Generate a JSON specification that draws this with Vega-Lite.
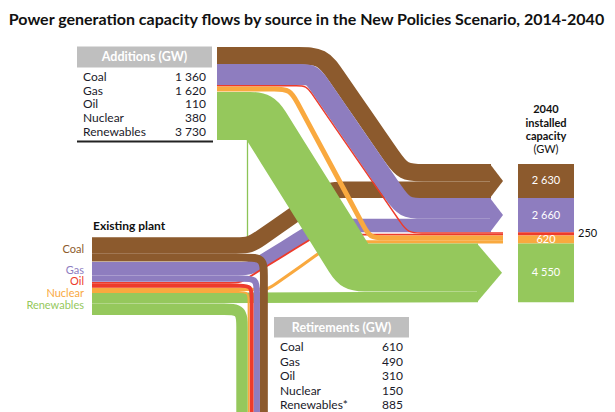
{
"$schema":"https://vega.github.io/schema/vega-lite/v6.json",
"width":615,"height":412,"padding":0,"autosize":"none",
"background":"white",
"config":{"view":{"stroke":null}},
"datasets":{
"flows":[
{"path":"add_coal","fuel":"Coal","grp":"add","gw":1360,"i":0,"x":217,"y":55.75},
{"path":"add_coal","fuel":"Coal","grp":"add","gw":1360,"i":1,"x":274.4,"y":55.75},
{"path":"add_coal","fuel":"Coal","grp":"add","gw":1360,"i":2,"x":298.4,"y":55.75},
{"path":"add_coal","fuel":"Coal","grp":"add","gw":1360,"i":3,"x":322.4,"y":55.75},
{"path":"add_coal","fuel":"Coal","grp":"add","gw":1360,"i":4,"x":336,"y":75.5},
{"path":"add_coal","fuel":"Coal","grp":"add","gw":1360,"i":5,"x":349.7,"y":95.3},
{"path":"add_coal","fuel":"Coal","grp":"add","gw":1360,"i":6,"x":380.5,"y":139.9},
{"path":"add_coal","fuel":"Coal","grp":"add","gw":1360,"i":7,"x":391.8,"y":156.3},
{"path":"add_coal","fuel":"Coal","grp":"add","gw":1360,"i":8,"x":403.2,"y":172.8},
{"path":"add_coal","fuel":"Coal","grp":"add","gw":1360,"i":9,"x":423.2,"y":172.8},
{"path":"add_coal","fuel":"Coal","grp":"add","gw":1360,"i":10,"x":443.2,"y":172.8},
{"path":"add_coal","fuel":"Coal","grp":"add","gw":1360,"i":11,"x":491,"y":172.8},
{"path":"add_gas","fuel":"Gas","grp":"add","gw":1620,"i":0,"x":217,"y":74.5},
{"path":"add_gas","fuel":"Gas","grp":"add","gw":1620,"i":1,"x":288.1,"y":74.5},
{"path":"add_gas","fuel":"Gas","grp":"add","gw":1620,"i":2,"x":300.1,"y":74.5},
{"path":"add_gas","fuel":"Gas","grp":"add","gw":1620,"i":3,"x":312.1,"y":74.5},
{"path":"add_gas","fuel":"Gas","grp":"add","gw":1620,"i":4,"x":318.9,"y":84.4},
{"path":"add_gas","fuel":"Gas","grp":"add","gw":1620,"i":5,"x":325.7,"y":94.3},
{"path":"add_gas","fuel":"Gas","grp":"add","gw":1620,"i":6,"x":381.7,"y":175.5},
{"path":"add_gas","fuel":"Gas","grp":"add","gw":1620,"i":7,"x":393,"y":191.9},
{"path":"add_gas","fuel":"Gas","grp":"add","gw":1620,"i":8,"x":404.4,"y":208.4},
{"path":"add_gas","fuel":"Gas","grp":"add","gw":1620,"i":9,"x":424.4,"y":208.4},
{"path":"add_gas","fuel":"Gas","grp":"add","gw":1620,"i":10,"x":444.4,"y":208.4},
{"path":"add_gas","fuel":"Gas","grp":"add","gw":1620,"i":11,"x":491,"y":208.4},
{"path":"add_oil","fuel":"Oil","grp":"add","gw":110,"i":0,"x":217,"y":85.7},
{"path":"add_oil","fuel":"Oil","grp":"add","gw":110,"i":1,"x":286.3,"y":85.7},
{"path":"add_oil","fuel":"Oil","grp":"add","gw":110,"i":2,"x":296.3,"y":85.7},
{"path":"add_oil","fuel":"Oil","grp":"add","gw":110,"i":3,"x":306.3,"y":85.7},
{"path":"add_oil","fuel":"Oil","grp":"add","gw":110,"i":4,"x":312,"y":93.9},
{"path":"add_oil","fuel":"Oil","grp":"add","gw":110,"i":5,"x":317.7,"y":102.2},
{"path":"add_oil","fuel":"Oil","grp":"add","gw":110,"i":6,"x":392,"y":210},
{"path":"add_oil","fuel":"Oil","grp":"add","gw":110,"i":7,"x":400,"y":221.5},
{"path":"add_oil","fuel":"Oil","grp":"add","gw":110,"i":8,"x":407.9,"y":233},
{"path":"add_oil","fuel":"Oil","grp":"add","gw":110,"i":9,"x":421.9,"y":233},
{"path":"add_oil","fuel":"Oil","grp":"add","gw":110,"i":10,"x":435.9,"y":233},
{"path":"add_oil","fuel":"Oil","grp":"add","gw":110,"i":11,"x":503,"y":233},
{"path":"add_nuc","fuel":"Nuclear","grp":"add","gw":380,"i":0,"x":217,"y":89},
{"path":"add_nuc","fuel":"Nuclear","grp":"add","gw":380,"i":1,"x":258,"y":89},
{"path":"add_nuc","fuel":"Nuclear","grp":"add","gw":380,"i":2,"x":274,"y":89},
{"path":"add_nuc","fuel":"Nuclear","grp":"add","gw":380,"i":3,"x":290,"y":89},
{"path":"add_nuc","fuel":"Nuclear","grp":"add","gw":380,"i":4,"x":297.6,"y":103.1},
{"path":"add_nuc","fuel":"Nuclear","grp":"add","gw":380,"i":5,"x":305.1,"y":117.2},
{"path":"add_nuc","fuel":"Nuclear","grp":"add","gw":380,"i":6,"x":356.8,"y":213.2},
{"path":"add_nuc","fuel":"Nuclear","grp":"add","gw":380,"i":7,"x":363.4,"y":225.6},
{"path":"add_nuc","fuel":"Nuclear","grp":"add","gw":380,"i":8,"x":370,"y":237.9},
{"path":"add_nuc","fuel":"Nuclear","grp":"add","gw":380,"i":9,"x":384,"y":237.9},
{"path":"add_nuc","fuel":"Nuclear","grp":"add","gw":380,"i":10,"x":398,"y":237.9},
{"path":"add_nuc","fuel":"Nuclear","grp":"add","gw":380,"i":11,"x":503,"y":237.9},
{"path":"add_ren","fuel":"Renewables","grp":"add","gw":3730,"i":0,"x":217,"y":116},
{"path":"add_ren","fuel":"Renewables","grp":"add","gw":3730,"i":1,"x":240,"y":116},
{"path":"add_ren","fuel":"Renewables","grp":"add","gw":3730,"i":2,"x":250,"y":116},
{"path":"add_ren","fuel":"Renewables","grp":"add","gw":3730,"i":3,"x":260,"y":116},
{"path":"add_ren","fuel":"Renewables","grp":"add","gw":3730,"i":4,"x":265.3,"y":124.5},
{"path":"add_ren","fuel":"Renewables","grp":"add","gw":3730,"i":5,"x":270.6,"y":133},
{"path":"add_ren","fuel":"Renewables","grp":"add","gw":3730,"i":6,"x":344.1,"y":250.5},
{"path":"add_ren","fuel":"Renewables","grp":"add","gw":3730,"i":7,"x":349.4,"y":259},
{"path":"add_ren","fuel":"Renewables","grp":"add","gw":3730,"i":8,"x":354.7,"y":267.5},
{"path":"add_ren","fuel":"Renewables","grp":"add","gw":3730,"i":9,"x":364.7,"y":267.5},
{"path":"add_ren","fuel":"Renewables","grp":"add","gw":3730,"i":10,"x":374.7,"y":267.5},
{"path":"add_ren","fuel":"Renewables","grp":"add","gw":3730,"i":11,"x":478,"y":267.5},
{"path":"cont_coal","fuel":"Coal","grp":"cont","gw":1270,"i":0,"x":92,"y":245.5},
{"path":"cont_coal","fuel":"Coal","grp":"cont","gw":1270,"i":1,"x":222,"y":245.5},
{"path":"cont_coal","fuel":"Coal","grp":"cont","gw":1270,"i":2,"x":236,"y":245.5},
{"path":"cont_coal","fuel":"Coal","grp":"cont","gw":1270,"i":3,"x":250,"y":245.5},
{"path":"cont_coal","fuel":"Coal","grp":"cont","gw":1270,"i":4,"x":261.5,"y":237.5},
{"path":"cont_coal","fuel":"Coal","grp":"cont","gw":1270,"i":5,"x":273,"y":229.5},
{"path":"cont_coal","fuel":"Coal","grp":"cont","gw":1270,"i":6,"x":307,"y":205.7},
{"path":"cont_coal","fuel":"Coal","grp":"cont","gw":1270,"i":7,"x":318.5,"y":197.7},
{"path":"cont_coal","fuel":"Coal","grp":"cont","gw":1270,"i":8,"x":330,"y":189.7},
{"path":"cont_coal","fuel":"Coal","grp":"cont","gw":1270,"i":9,"x":344,"y":189.7},
{"path":"cont_coal","fuel":"Coal","grp":"cont","gw":1270,"i":10,"x":358,"y":189.7},
{"path":"cont_coal","fuel":"Coal","grp":"cont","gw":1270,"i":11,"x":491,"y":189.7},
{"path":"cont_gas","fuel":"Gas","grp":"cont","gw":1040,"i":0,"x":92,"y":268.7},
{"path":"cont_gas","fuel":"Gas","grp":"cont","gw":1040,"i":1,"x":226,"y":268.7},
{"path":"cont_gas","fuel":"Gas","grp":"cont","gw":1040,"i":2,"x":238,"y":268.7},
{"path":"cont_gas","fuel":"Gas","grp":"cont","gw":1040,"i":3,"x":250,"y":268.7},
{"path":"cont_gas","fuel":"Gas","grp":"cont","gw":1040,"i":4,"x":260.2,"y":262.4},
{"path":"cont_gas","fuel":"Gas","grp":"cont","gw":1040,"i":5,"x":270.4,"y":256.1},
{"path":"cont_gas","fuel":"Gas","grp":"cont","gw":1040,"i":6,"x":299.6,"y":238.1},
{"path":"cont_gas","fuel":"Gas","grp":"cont","gw":1040,"i":7,"x":309.8,"y":231.8},
{"path":"cont_gas","fuel":"Gas","grp":"cont","gw":1040,"i":8,"x":320,"y":225.5},
{"path":"cont_gas","fuel":"Gas","grp":"cont","gw":1040,"i":9,"x":332,"y":225.5},
{"path":"cont_gas","fuel":"Gas","grp":"cont","gw":1040,"i":10,"x":344,"y":225.5},
{"path":"cont_gas","fuel":"Gas","grp":"cont","gw":1040,"i":11,"x":491,"y":225.5},
{"path":"cont_oil","fuel":"Oil","grp":"cont","gw":140,"i":0,"x":92,"y":282.8},
{"path":"cont_oil","fuel":"Oil","grp":"cont","gw":140,"i":1,"x":220,"y":282.8},
{"path":"cont_oil","fuel":"Oil","grp":"cont","gw":140,"i":2,"x":230,"y":282.8},
{"path":"cont_oil","fuel":"Oil","grp":"cont","gw":140,"i":3,"x":240,"y":282.8},
{"path":"cont_oil","fuel":"Oil","grp":"cont","gw":140,"i":4,"x":248.5,"y":277.5},
{"path":"cont_oil","fuel":"Oil","grp":"cont","gw":140,"i":5,"x":257,"y":272.2},
{"path":"cont_oil","fuel":"Oil","grp":"cont","gw":140,"i":6,"x":301,"y":245.2},
{"path":"cont_oil","fuel":"Oil","grp":"cont","gw":140,"i":7,"x":309.5,"y":239.9},
{"path":"cont_oil","fuel":"Oil","grp":"cont","gw":140,"i":8,"x":318,"y":234.6},
{"path":"cont_oil","fuel":"Oil","grp":"cont","gw":140,"i":9,"x":328,"y":234.6},
{"path":"cont_oil","fuel":"Oil","grp":"cont","gw":140,"i":10,"x":338,"y":234.6},
{"path":"cont_oil","fuel":"Oil","grp":"cont","gw":140,"i":11,"x":503,"y":234.6},
{"path":"cont_nuc","fuel":"Nuclear","grp":"cont","gw":240,"i":0,"x":92,"y":289.4},
{"path":"cont_nuc","fuel":"Nuclear","grp":"cont","gw":240,"i":1,"x":248,"y":289.4},
{"path":"cont_nuc","fuel":"Nuclear","grp":"cont","gw":240,"i":2,"x":258,"y":289.4},
{"path":"cont_nuc","fuel":"Nuclear","grp":"cont","gw":240,"i":3,"x":268,"y":289.4},
{"path":"cont_nuc","fuel":"Nuclear","grp":"cont","gw":240,"i":4,"x":276.2,"y":283.6},
{"path":"cont_nuc","fuel":"Nuclear","grp":"cont","gw":240,"i":5,"x":284.3,"y":277.8},
{"path":"cont_nuc","fuel":"Nuclear","grp":"cont","gw":240,"i":6,"x":318.7,"y":253.5},
{"path":"cont_nuc","fuel":"Nuclear","grp":"cont","gw":240,"i":7,"x":326.8,"y":247.7},
{"path":"cont_nuc","fuel":"Nuclear","grp":"cont","gw":240,"i":8,"x":335,"y":241.9},
{"path":"cont_nuc","fuel":"Nuclear","grp":"cont","gw":240,"i":9,"x":345,"y":241.9},
{"path":"cont_nuc","fuel":"Nuclear","grp":"cont","gw":240,"i":10,"x":355,"y":241.9},
{"path":"cont_nuc","fuel":"Nuclear","grp":"cont","gw":240,"i":11,"x":503,"y":241.9},
{"path":"cont_ren","fuel":"Renewables","grp":"cont","gw":820,"i":0,"x":92,"y":298.3},
{"path":"cont_ren","fuel":"Renewables","grp":"cont","gw":820,"i":1,"x":478,"y":296.9},
{"path":"ret_coal","fuel":"Coal","grp":"ret","gw":610,"i":0,"x":92,"y":257.6},
{"path":"ret_coal","fuel":"Coal","grp":"ret","gw":610,"i":1,"x":227.9,"y":257.6},
{"path":"ret_coal","fuel":"Coal","grp":"ret","gw":610,"i":2,"x":245.9,"y":257.6},
{"path":"ret_coal","fuel":"Coal","grp":"ret","gw":610,"i":3,"x":263.9,"y":257.6},
{"path":"ret_coal","fuel":"Coal","grp":"ret","gw":610,"i":4,"x":263.9,"y":275.6},
{"path":"ret_coal","fuel":"Coal","grp":"ret","gw":610,"i":5,"x":263.9,"y":293.6},
{"path":"ret_coal","fuel":"Coal","grp":"ret","gw":610,"i":6,"x":263.9,"y":420},
{"path":"ret_gas","fuel":"Gas","grp":"ret","gw":490,"i":0,"x":92,"y":278.6},
{"path":"ret_gas","fuel":"Gas","grp":"ret","gw":490,"i":1,"x":228.8,"y":278.6},
{"path":"ret_gas","fuel":"Gas","grp":"ret","gw":490,"i":2,"x":242.8,"y":278.6},
{"path":"ret_gas","fuel":"Gas","grp":"ret","gw":490,"i":3,"x":256.8,"y":278.6},
{"path":"ret_gas","fuel":"Gas","grp":"ret","gw":490,"i":4,"x":256.8,"y":292.6},
{"path":"ret_gas","fuel":"Gas","grp":"ret","gw":490,"i":5,"x":256.8,"y":306.6},
{"path":"ret_gas","fuel":"Gas","grp":"ret","gw":490,"i":6,"x":256.8,"y":420},
{"path":"ret_oil","fuel":"Oil","grp":"ret","gw":310,"i":0,"x":92,"y":285.7},
{"path":"ret_oil","fuel":"Oil","grp":"ret","gw":310,"i":1,"x":227.6,"y":285.7},
{"path":"ret_oil","fuel":"Oil","grp":"ret","gw":310,"i":2,"x":239.6,"y":285.7},
{"path":"ret_oil","fuel":"Oil","grp":"ret","gw":310,"i":3,"x":251.6,"y":285.7},
{"path":"ret_oil","fuel":"Oil","grp":"ret","gw":310,"i":4,"x":251.6,"y":297.7},
{"path":"ret_oil","fuel":"Oil","grp":"ret","gw":310,"i":5,"x":251.6,"y":309.7},
{"path":"ret_oil","fuel":"Oil","grp":"ret","gw":310,"i":6,"x":251.6,"y":420},
{"path":"ret_nuc","fuel":"Nuclear","grp":"ret","gw":150,"i":0,"x":92,"y":292},
{"path":"ret_nuc","fuel":"Nuclear","grp":"ret","gw":150,"i":1,"x":228.6,"y":292},
{"path":"ret_nuc","fuel":"Nuclear","grp":"ret","gw":150,"i":2,"x":238.6,"y":292},
{"path":"ret_nuc","fuel":"Nuclear","grp":"ret","gw":150,"i":3,"x":248.6,"y":292},
{"path":"ret_nuc","fuel":"Nuclear","grp":"ret","gw":150,"i":4,"x":248.6,"y":302},
{"path":"ret_nuc","fuel":"Nuclear","grp":"ret","gw":150,"i":5,"x":248.6,"y":312},
{"path":"ret_nuc","fuel":"Nuclear","grp":"ret","gw":150,"i":6,"x":248.6,"y":420},
{"path":"ret_ren","fuel":"Renewables","grp":"ret","gw":885,"i":0,"x":92,"y":309.3},
{"path":"ret_ren","fuel":"Renewables","grp":"ret","gw":885,"i":1,"x":206,"y":309.3},
{"path":"ret_ren","fuel":"Renewables","grp":"ret","gw":885,"i":2,"x":224,"y":309.3},
{"path":"ret_ren","fuel":"Renewables","grp":"ret","gw":885,"i":3,"x":242,"y":309.3},
{"path":"ret_ren","fuel":"Renewables","grp":"ret","gw":885,"i":4,"x":242,"y":327.3},
{"path":"ret_ren","fuel":"Renewables","grp":"ret","gw":885,"i":5,"x":242,"y":345.3},
{"path":"ret_ren","fuel":"Renewables","grp":"ret","gw":885,"i":6,"x":242,"y":420}
],
"arrows":[
{"fuel":"Coal","x":490,"y":164,"y2":197.9},
{"fuel":"Coal","x":503,"y":181,"y2":181},
{"fuel":"Gas","x":490,"y":197.9,"y2":232.2},
{"fuel":"Gas","x":503,"y":215,"y2":215},
{"fuel":"Renewables","x":477,"y":243.5,"y2":302.2},
{"fuel":"Renewables","x":502,"y":272.8,"y2":272.8}
],
"boxes":[
{"fuel":"Coal","gw":2630,"x":518,"x2":574,"y":164,"y2":197.9},
{"fuel":"Gas","gw":2660,"x":518,"x2":574,"y":197.9,"y2":232.2},
{"fuel":"Oil","gw":250,"x":518,"x2":574,"y":232.2,"y2":235.5},
{"fuel":"Nuclear","gw":620,"x":518,"x2":574,"y":235.5,"y2":243.5},
{"fuel":"Renewables","gw":4550,"x":518,"x2":574,"y":243.5,"y2":302.2}
],
"heads":[
{"x":77,"x2":212,"y":46.5,"y2":67.5},
{"x":274,"x2":409,"y":317,"y2":337.5}
],
"rules":[
{"k":"h","x":77,"x2":213,"y":141.5,"y2":141.5},
{"k":"v","x":247.5,"x2":247.5,"y":140,"y2":238}
],
"texts":[
{"k":"title","t":"Power generation capacity flows by source in the  New Policies Scenario, 2014-2040","x":306.5,"y":19.5},
{"k":"hdr","t":"Additions (GW)","x":144.5,"y":57},
{"k":"hdr","t":"Retirements (GW)","x":341.5,"y":327.5},
{"k":"lab","t":"Coal","x":83,"y":77},
{"k":"lab","t":"Gas","x":83,"y":90.5},
{"k":"lab","t":"Oil","x":83,"y":104},
{"k":"lab","t":"Nuclear","x":83,"y":118},
{"k":"lab","t":"Renewables","x":83,"y":132},
{"k":"lab","t":"Coal","x":280,"y":347},
{"k":"lab","t":"Gas","x":280,"y":361.5},
{"k":"lab","t":"Oil","x":280,"y":376},
{"k":"lab","t":"Nuclear","x":280,"y":390.5},
{"k":"lab","t":"Renewables*","x":280,"y":405},
{"k":"num","t":"1 360","x":206,"y":77},
{"k":"num","t":"1 620","x":206,"y":90.5},
{"k":"num","t":"110","x":206,"y":104},
{"k":"num","t":"380","x":206,"y":118},
{"k":"num","t":"3 730","x":206,"y":132},
{"k":"num","t":"610","x":403,"y":347},
{"k":"num","t":"490","x":403,"y":361.5},
{"k":"num","t":"310","x":403,"y":376},
{"k":"num","t":"150","x":403,"y":390.5},
{"k":"num","t":"885","x":403,"y":405},
{"k":"fuel","fuel":"Coal","t":"Coal","x":84,"y":250},
{"k":"fuel","fuel":"Gas","t":"Gas","x":84,"y":270.5},
{"k":"fuel","fuel":"Oil","t":"Oil","x":84,"y":282},
{"k":"fuel","fuel":"Nuclear","t":"Nuclear","x":84,"y":294},
{"k":"fuel","fuel":"Renewables","t":"Renewables","x":84,"y":306},
{"k":"plant","t":"Existing plant","x":93,"y":226},
{"k":"cap","t":"2040","x":546,"y":110},
{"k":"cap","t":"installed","x":546,"y":123.5},
{"k":"cap","t":"capacity","x":546,"y":137},
{"k":"capgw","t":"(GW)","x":546,"y":150},
{"k":"box","t":"2 630","x":546,"y":181},
{"k":"box","t":"2 660","x":546,"y":215.5},
{"k":"box","t":"620","x":546,"y":239.5},
{"k":"box","t":"4 550","x":546,"y":273},
{"k":"side","t":"250","x":578,"y":234}
]
},
"encoding":{
"x":{"field":"x","type":"quantitative","scale":{"domain":[0,615],"nice":false,"zero":false},"axis":null},
"y":{"field":"y","type":"quantitative","scale":{"domain":[0,412],"nice":false,"zero":false,"reverse":true},"axis":null}
},
"layer":[
{"data":{"name":"heads"},"mark":{"type":"rect","color":"#bfbfbf"},
 "encoding":{"x2":{"field":"x2"},"y2":{"field":"y2"}}},
{"data":{"name":"rules"},"transform":[{"filter":"datum.k==='h'"}],"mark":{"type":"rule","color":"#222222","strokeWidth":2},
 "encoding":{"x2":{"field":"x2"}}},
{"data":{"name":"rules"},"transform":[{"filter":"datum.k==='v'"}],"mark":{"type":"rule","color":"#8cc456","strokeWidth":1.3},
 "encoding":{"y2":{"field":"y2"}}},
{"data":{"name":"flows"},"transform":[{"filter":"datum.grp==='cont'"}],
 "mark":{"type":"line","interpolate":"basis","strokeCap":"butt"},
 "encoding":{"order":{"field":"i","type":"quantitative"},"detail":{"field":"path","type":"nominal"},
  "color":{"field":"fuel","type":"nominal","scale":{"domain":["Coal","Gas","Oil","Nuclear","Renewables"],"range":["#8c5a2d","#8e7dbf","#ed3b2b","#f9a93f","#95c85c"]},"legend":null},
  "size":{"field":"gw","type":"quantitative","scale":{"domain":[0,10000],"range":[0,129]},"legend":null}}},
{"data":{"name":"flows"},"transform":[{"filter":"datum.grp==='ret'"}],
 "mark":{"type":"line","interpolate":"basis","strokeCap":"butt"},
 "encoding":{"order":{"field":"i","type":"quantitative"},"detail":{"field":"path","type":"nominal"},
  "color":{"field":"fuel","type":"nominal","legend":null},
  "size":{"field":"gw","type":"quantitative","legend":null}}},
{"data":{"name":"flows"},"transform":[{"filter":"datum.grp==='add'"}],
 "mark":{"type":"line","interpolate":"basis","strokeCap":"butt"},
 "encoding":{"order":{"field":"i","type":"quantitative"},"detail":{"field":"path","type":"nominal"},
  "color":{"field":"fuel","type":"nominal","legend":null},
  "size":{"field":"gw","type":"quantitative","legend":null}}},
{"data":{"name":"arrows"},"mark":{"type":"area","orient":"vertical"},
 "encoding":{"y2":{"field":"y2"},"detail":{"field":"fuel","type":"nominal"},
  "color":{"field":"fuel","type":"nominal","legend":null}}},
{"data":{"name":"boxes"},"mark":{"type":"rect"},
 "encoding":{"x2":{"field":"x2"},"y2":{"field":"y2"},
  "color":{"field":"fuel","type":"nominal","legend":null}}},
{"data":{"name":"texts"},"transform":[{"filter":"datum.k==='title'"}],
 "mark":{"type":"text","font":"Lato","fontWeight":"bold","fontSize":16,"align":"center","baseline":"middle","color":"#111111"},
 "encoding":{"text":{"field":"t"}}},
{"data":{"name":"texts"},"transform":[{"filter":"datum.k==='hdr'"}],
 "mark":{"type":"text","font":"Lato","fontWeight":"bold","fontSize":12.5,"align":"center","baseline":"middle","color":"#ffffff"},
 "encoding":{"text":{"field":"t"}}},
{"data":{"name":"texts"},"transform":[{"filter":"datum.k==='lab'"}],
 "mark":{"type":"text","font":"Lato","fontSize":12,"align":"left","baseline":"middle","color":"#1a1a2a"},
 "encoding":{"text":{"field":"t"}}},
{"data":{"name":"texts"},"transform":[{"filter":"datum.k==='num'"}],
 "mark":{"type":"text","font":"Lato","fontSize":12,"align":"right","baseline":"middle","color":"#1a1a2a"},
 "encoding":{"text":{"field":"t"}}},
{"data":{"name":"texts"},"transform":[{"filter":"datum.k==='fuel'"}],
 "mark":{"type":"text","font":"Lato","fontSize":11,"align":"right","baseline":"middle"},
 "encoding":{"text":{"field":"t"},"color":{"field":"fuel","type":"nominal","legend":null}}},
{"data":{"name":"texts"},"transform":[{"filter":"datum.k==='plant'"}],
 "mark":{"type":"text","font":"Lato","fontWeight":"bold","fontSize":12,"align":"left","baseline":"middle","color":"#111111"},
 "encoding":{"text":{"field":"t"}}},
{"data":{"name":"texts"},"transform":[{"filter":"datum.k==='cap'"}],
 "mark":{"type":"text","font":"Lato","fontWeight":"bold","fontSize":11,"align":"center","baseline":"middle","color":"#111111"},
 "encoding":{"text":{"field":"t"}}},
{"data":{"name":"texts"},"transform":[{"filter":"datum.k==='capgw'"}],
 "mark":{"type":"text","font":"Lato","fontSize":11,"align":"center","baseline":"middle","color":"#111111"},
 "encoding":{"text":{"field":"t"}}},
{"data":{"name":"texts"},"transform":[{"filter":"datum.k==='box'"}],
 "mark":{"type":"text","font":"Lato","fontSize":11,"align":"center","baseline":"middle","color":"#ffffff"},
 "encoding":{"text":{"field":"t"}}},
{"data":{"name":"texts"},"transform":[{"filter":"datum.k==='side'"}],
 "mark":{"type":"text","font":"Lato","fontSize":11,"align":"left","baseline":"middle","color":"#111111"},
 "encoding":{"text":{"field":"t"}}}
]
}
